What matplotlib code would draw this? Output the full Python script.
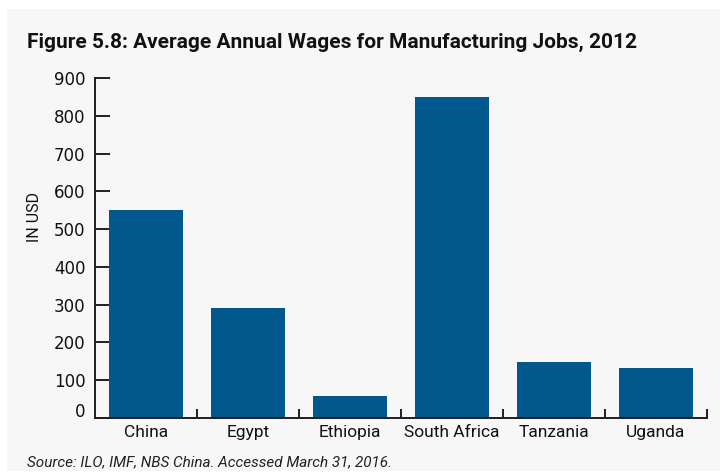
import matplotlib
matplotlib.use("Agg")
import matplotlib.pyplot as plt
from matplotlib.patches import Rectangle
from matplotlib.ticker import FixedLocator
import matplotlib.transforms as mtransforms

categories = ["China", "Egypt", "Ethiopia", "South Africa", "Tanzania", "Uganda"]
wages = [551, 292, 58, 849, 147, 133]
yticks = [0, 100, 200, 300, 400, 500, 600, 700, 800, 900]

title = "Figure 5.8: Average Annual Wages for Manufacturing Jobs, 2012"
source = "Source: ILO, IMF, NBS China. Accessed March 31, 2016."

plt.rcParams['font.family'] = ['Roboto', 'DejaVu Sans']
bar_color = '#00588c'
axis_color = '#231f20'

fig = plt.figure(figsize=(7.2, 4.73), dpi=100, facecolor='white')
fig.patches.append(Rectangle((7/720, 2/473), 1 - 7/720, 1 - 11/473, transform=fig.transFigure,
                             facecolor='#f7f7f7', edgecolor='none', zorder=-10))

ax = fig.add_axes([95/720, 1 - 418/473, (706.7 - 95)/720, (418 - 78)/473])
ax.set_facecolor('none')

x = list(range(len(categories)))
ax.bar(x, wages, width=0.73, color=bar_color, zorder=2)

ax.set_xlim(-0.5, len(categories) - 0.5)
ax.set_ylim(0, 900)

for s in ['top', 'right']:
    ax.spines[s].set_visible(False)
for s in ['left', 'bottom']:
    ax.spines[s].set_color(axis_color)
    ax.spines[s].set_linewidth(1.4)

ax.set_yticks(yticks)
ax.set_yticklabels([str(v) for v in yticks])
ax.tick_params(axis='y', direction='in', length=11, width=1.4, color=axis_color,
               labelcolor='#111111', pad=7)
for t in ax.yaxis.get_major_ticks():
    t.label1.set_fontfamily('DejaVu Sans')
    t.label1.set_fontsize(12)

ax.set_xticks(x)
ax.set_xticklabels(categories)
ax.tick_params(axis='x', which='major', length=0, labelsize=12.5, labelcolor='#111111', pad=5)
ax.xaxis.set_minor_locator(FixedLocator([i + 0.5 for i in x]))
ax.tick_params(axis='x', which='minor', direction='in', length=6.5, width=1.4, color=axis_color)

# the "0" label sits slightly above its tick in the original
off = mtransforms.ScaledTranslation(0, 8/100, fig.dpi_scale_trans)
lbl0 = ax.yaxis.get_major_ticks()[0].label1
lbl0.set_transform(lbl0.get_transform() + off)

ax.set_ylabel("IN USD", fontsize=11.5, color='#111111')
ax.yaxis.set_label_coords(-53/611.7, 0.592)

fig.text(27/720, 1 - 42/473, title, fontsize=15, fontweight='bold', color='#111111',
         ha='left', va='center')
fig.text(27/720, 1 - 462/473, source, fontsize=11, style='italic', color='#222222',
         ha='left', va='center')

fig.savefig("out.png", dpi=100, facecolor='white')
